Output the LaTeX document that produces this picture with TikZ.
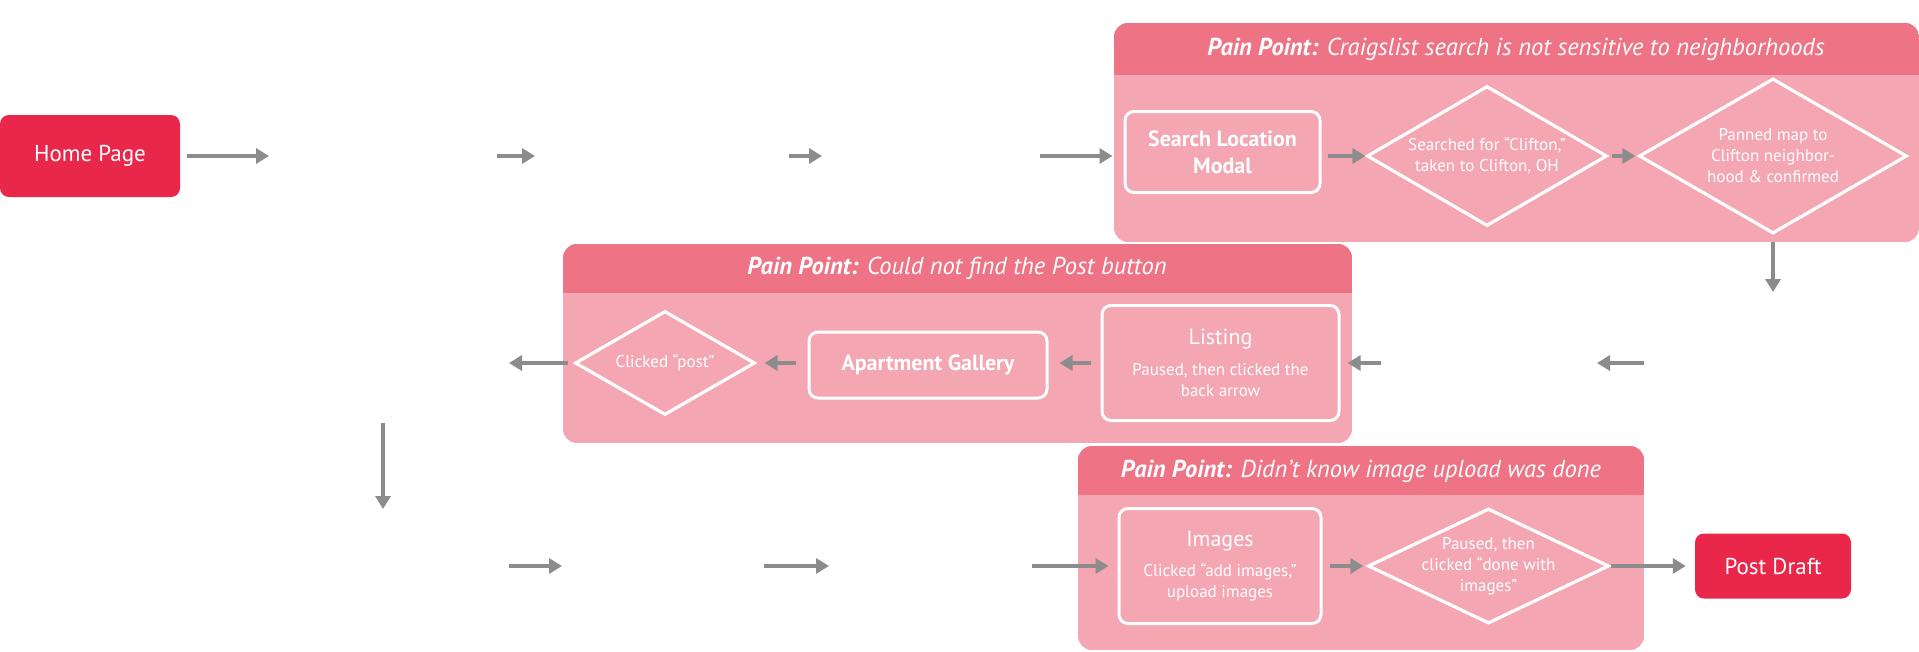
\documentclass[tikz,border=0pt]{standalone}
\usepackage{fontspec}
\setmainfont{PT Sans}
\usetikzlibrary{arrows.meta,shapes.geometric}
\definecolor{hred}{HTML}{E8274A}
\definecolor{hdr}{HTML}{EE7385}
\definecolor{bodypink}{HTML}{F4A6B2}
\definecolor{agrey}{HTML}{8C8C8C}
\begin{document}
\begin{tikzpicture}[x=1pt,y=-1pt,
  arr/.style={draw=agrey,line width=3.5pt,-{Triangle[length=13pt,width=15pt]}},
  endbox/.style={fill=hred,rounded corners=9pt,text=white,inner sep=0pt,align=center,font=\fontsize{23}{27}\selectfont},
  stepbox/.style={draw=white,line width=3pt,rounded corners=9pt,text=white,inner sep=0pt,align=center,font=\fontsize{17}{21}\selectfont},
  choice/.style={diamond,draw=white,line width=3.2pt,inner sep=0pt},
  choicetext/.style={text=white,inner sep=0pt,align=center,font=\fontsize{17}{21}\selectfont},
  hdrtext/.style={text=white,inner sep=0pt,font=\fontsize{24.5}{28}\selectfont\itshape},
  panel/.style={rounded corners=14pt}]
\useasboundingbox (0,0) rectangle (1919,651);

% ---------- pain point panels ----------
\begin{scope}
  \clip[panel] (1114,23) rectangle (1919,242);
  \fill[bodypink] (1114,23) rectangle (1919,242);
  \fill[hdr] (1114,23) rectangle (1919,75);
\end{scope}
\begin{scope}
  \clip[panel] (563,244) rectangle (1352,443);
  \fill[bodypink] (563,244) rectangle (1352,443);
  \fill[hdr] (563,244) rectangle (1352,293);
\end{scope}
\begin{scope}
  \clip[panel] (1078,446) rectangle (1644,650);
  \fill[bodypink] (1078,446) rectangle (1644,650);
  \fill[hdr] (1078,446) rectangle (1644,495);
\end{scope}
\node[hdrtext] (pp1) at (1516,49) {{\bfseries Pain Point:} Craigslist search is not sensitive to neighborhoods};
\node[hdrtext] (pp2) at (957,268) {{\bfseries Pain Point:} Could not find the Post button};
\node[hdrtext] (pp3) at (1361,471) {{\bfseries Pain Point:} Didn’t know image upload was done};

% ---------- top row ----------
\node[endbox,minimum width=180pt,minimum height=82pt] (home) at (90,156) {Home Page};
\node[stepbox,minimum width=195pt,minimum height=81pt,font=\bfseries\fontsize{22}{27}\selectfont] (search) at (1222.5,152) {Search Location\\Modal};
\node[choice,minimum width=240pt,minimum height=140pt] (d1) at (1487,156) {};
\node[choicetext] (d1t) at (d1.center) {Searched for “Clifton,”\\taken to Clifton, OH};
\node[choice,minimum width=268pt,minimum height=155pt] (d2) at (1773,156) {};
\node[choicetext] (d2t) at (d2.center) {Panned map to\\Clifton neighbor-\\hood \& confirmed};

\coordinate (a1e) at (269,156);
\coordinate (a2s) at (497,156); \coordinate (a2e) at (535,156);
\coordinate (a3s) at (789,156); \coordinate (a3e) at (822,156);
\coordinate (a4s) at (1040,156);
\coordinate (dn1e) at (1773,292);

\draw[arr,shorten <=7pt] (home.east) -- (a1e);
\draw[arr] (a2s) -- (a2e);
\draw[arr] (a3s) -- (a3e);
\draw[arr,shorten >=11pt] (a4s) -- (a4s -| search.west);
\draw[arr,shorten <=6pt] (search.east |- d1.west) -- (d1.west);
\draw[arr,shorten <=3pt,shorten >=2pt] (d1.east) -- (d2.west);
\draw[arr,shorten <=7pt] (d2.south) -- (dn1e);

% ---------- middle row ----------
\node[stepbox,minimum width=237pt,minimum height=115pt] (listing) at (1220.5,363)
  {{\fontsize{22}{26}\selectfont Listing}\\[10pt]Paused, then clicked the\\back arrow};
\node[stepbox,minimum width=238pt,minimum height=66pt,font=\bfseries\fontsize{22}{26}\selectfont] (gallery) at (928,365) {Apartment Gallery};
\node[choice,minimum width=180pt,minimum height=104pt] (post) at (665,363) {};
\node[choicetext,font=\fontsize{17}{21}\selectfont] (postt) at (post.center) {Clicked “post”};

\coordinate (m1s) at (1644,363); \coordinate (m1e) at (1597,363);
\coordinate (m2s) at (1381,363);
\coordinate (m3e) at (509,363);
\coordinate (dn2s) at (383,423); \coordinate (dn2e) at (383,509);

\draw[arr] (m1s) -- (m1e);
\draw[arr,shorten >=7pt] (m2s) -- (m2s -| listing.east);
\draw[arr,shorten <=10pt,shorten >=11pt] (listing.west) -- (listing.west -| gallery.east);
\draw[arr,shorten <=12pt,shorten >=8pt] (gallery.west |- post.east) -- (post.east);
\draw[arr,shorten <=5pt] (post.west) -- (m3e);
\draw[arr] (dn2s) -- (dn2e);

% ---------- bottom row ----------
\node[stepbox,minimum width=202pt,minimum height=115pt] (images) at (1220,566)
  {{\fontsize{22}{26}\selectfont Images}\\[9pt]Clicked “add images,”\\upload images};
\node[choice,minimum width=241pt,minimum height=115pt] (d3) at (1488.5,566) {};
\node[choicetext] (d3t) at (d3.center) {Paused, then\\clicked “done with\\images”};
\node[endbox,minimum width=156pt,minimum height=65pt] (draft) at (1773,566) {Post Draft};

\coordinate (b1s) at (509,566); \coordinate (b1e) at (562,566);
\coordinate (b2s) at (764,566); \coordinate (b2e) at (829,566);
\coordinate (b3s) at (1032,566);

\draw[arr] (b1s) -- (b1e);
\draw[arr] (b2s) -- (b2e);
\draw[arr,shorten >=9pt] (b3s) -- (b3s -| images.west);
\draw[arr,shorten <=7pt,shorten >=3pt] (images.east) -- (d3.west);
\draw[arr,shorten >=9pt] (d3.east) -- (draft.west);
\end{tikzpicture}
\end{document}
